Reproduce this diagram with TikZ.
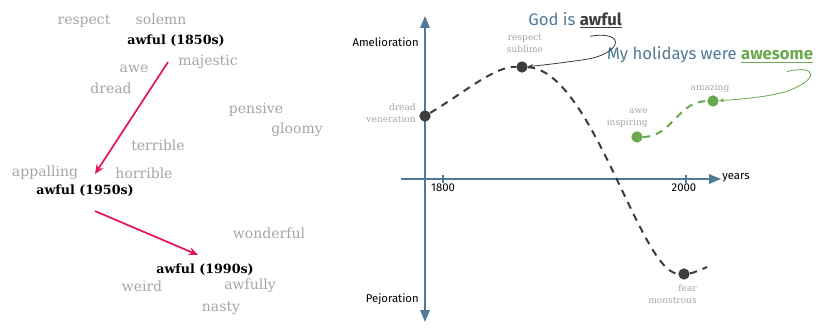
\documentclass[tikz,border=0pt]{standalone}
\usepackage{fontspec}
\setmainfont{Fira Sans}
\newfontfamily\slabfont{DejaVu Serif}
\usetikzlibrary{arrows.meta, positioning}
\definecolor{wordGray}{RGB}{165,165,165}
\definecolor{shiftRed}{RGB}{230,20,90}
\definecolor{axisBlue}{RGB}{78,122,152}
\definecolor{dotGray}{RGB}{60,60,60}
\definecolor{praiseGreen}{RGB}{106,168,79}
\tikzset{
  word/.style={text=wordGray, inner sep=0pt, font=\slabfont\fontsize{10.5}{12}\selectfont},
  era/.style={text=black, inner sep=0pt, font=\slabfont\bfseries\fontsize{9.5}{11}\selectfont},
  shiftarrow/.style={shiftRed, line width=1.3pt, -{Stealth[length=7pt, width=6pt]}},
  axis/.style={axisBlue, line width=1.5pt},
  axislabel/.style={inner sep=0pt, font=\fontsize{8.5}{10}\selectfont},
  dot/.style={circle, fill=#1, inner sep=0pt, minimum size=8.5pt},
  sense/.style={text=wordGray, inner sep=0pt, font=\slabfont\fontsize{6.8}{9}\selectfont},
  trend/.style={#1, line width=1.5pt, dash pattern=on 5.5pt off 4.5pt},
  quote/.style={text=axisBlue, inner sep=0pt, font=\fontsize{12.5}{14}\selectfont}
}
\begin{document}
\begin{tikzpicture}[x=0.75pt, y=-0.75pt]
  \useasboundingbox (0,0) rectangle (830,328);
  % words around awful
  \node[word] (respect) at (84,21) {respect};
  \node[word] (solemn) at (161,19) {solemn};
  \node[era] (e1850) at (176,41) {awful (1850s)};
  \node[word] (majestic) at (208,62) {majestic};
  \node[word] (awe) at (134,69) {awe};
  \node[word] (dread) at (111,88) {dread};
  \node[word] (pensive) at (256,110) {pensive};
  \node[word] (gloomy) at (297,130) {gloomy};
  \node[word] (terrible) at (158,145) {terrible};
  \node[word] (appalling) at (45,173) {appalling};
  \node[word] (horrible) at (144,173) {horrible};
  \node[era] (e1950) at (85,191) {awful (1950s)};
  \node[word] (wonderful) at (269,233) {wonderful};
  \node[era] (e1990) at (205,270) {awful (1990s)};
  \node[word] (weird) at (142,286) {weird};
  \node[word] (awfully) at (250,286) {awfully};
  \node[word] (nasty) at (221,308) {nasty};
  \draw[shiftarrow] ([shift={(-8,15)}]e1850.south) -- ([shift={(10,-11)}]e1950.north);
  \draw[shiftarrow] ([shift={(10,14)}]e1950.south) -- ([shift={(-7,-9)}]e1990.north);

  % axes
  \coordinate (top) at (425,16);
  \coordinate (bottom) at (425,322);
  \coordinate (left) at (401,179);
  \coordinate (right) at (721,179);
  \draw[axis, {Triangle[length=9pt, width=7pt]}-{Triangle[length=9pt, width=7pt]}] (bottom) -- (top);
  \draw[axis, -{Triangle[length=9pt, width=7pt]}] (left) -- (right);
  \draw[axisBlue, line width=1pt] (443,175) -- (443,183);
  \draw[axisBlue, line width=1pt] (686,175) -- (686,183);
  \node[axislabel] (y1800) at (443,188) {1800};
  \node[axislabel] (y2000) at (684,188) {2000};
  \node[axislabel, anchor=west] (years) at (722,178) {years};
  \node[axislabel, anchor=east] (amel) at (419,42) {Amelioration};
  \node[axislabel, anchor=east] (pejo) at (419,299) {Pejoration};

  % meaning of awful
  \node[dot=dotGray] (dDread) at (425,116) {};
  \node[dot=dotGray] (dRespect) at (522,67) {};
  \node[dot=dotGray] (dFear) at (684,274) {};
  \coordinate (fearEnd) at (707,267);
  \draw[trend=dotGray] (dDread) .. controls (465,92) and (495,66) .. (dRespect)
    .. controls (592,70) and (640,272) .. (dFear) .. controls (693,273) and (700,270) .. (fearEnd);
  \node[sense, anchor=east, align=right] (lDread) at (416,113) {dread\\veneration};
  \node[sense, align=center] (lRespect) at (525,43) {respect\\sublime};
  \node[sense, anchor=east, align=right] (lFear) at (697,294) {fear\\monstrous};

  % meaning of awesome
  \node[dot=praiseGreen] (dAwe) at (637,137) {};
  \node[dot=praiseGreen] (dAmazing) at (713,101) {};
  \draw[trend=praiseGreen] (dAwe) .. controls (672,137) and (678,101) .. (dAmazing);
  \node[sense, anchor=east, align=right] (lAwe) at (648,118) {awe\\inspiring};
  \node[sense] (lAmazing) at (710,88) {amazing};

  % example sentences
  \node[quote] (god) at (575,20) {God is \textcolor{dotGray}{\textbf{\underline{awful}}}};
  \node[quote] (holidays) at (710,55) {My holidays were \textcolor{praiseGreen}{\textbf{\underline{awesome}}}};
  \draw[dotGray, line width=0.6pt, -{Stealth[length=4pt]}] ([shift={(15,8)}]god.south)
    .. controls (628,30) and (622,55) .. (582,60) .. controls (560,63) and (545,65) .. (dRespect);
  \draw[praiseGreen, line width=0.6pt, -{Stealth[length=4pt]}] ([shift={(77,8)}]holidays.south)
    .. controls (818,64) and (820,80) .. (785,92) .. controls (765,97) and (745,99) .. (dAmazing);
\end{tikzpicture}
\end{document}
